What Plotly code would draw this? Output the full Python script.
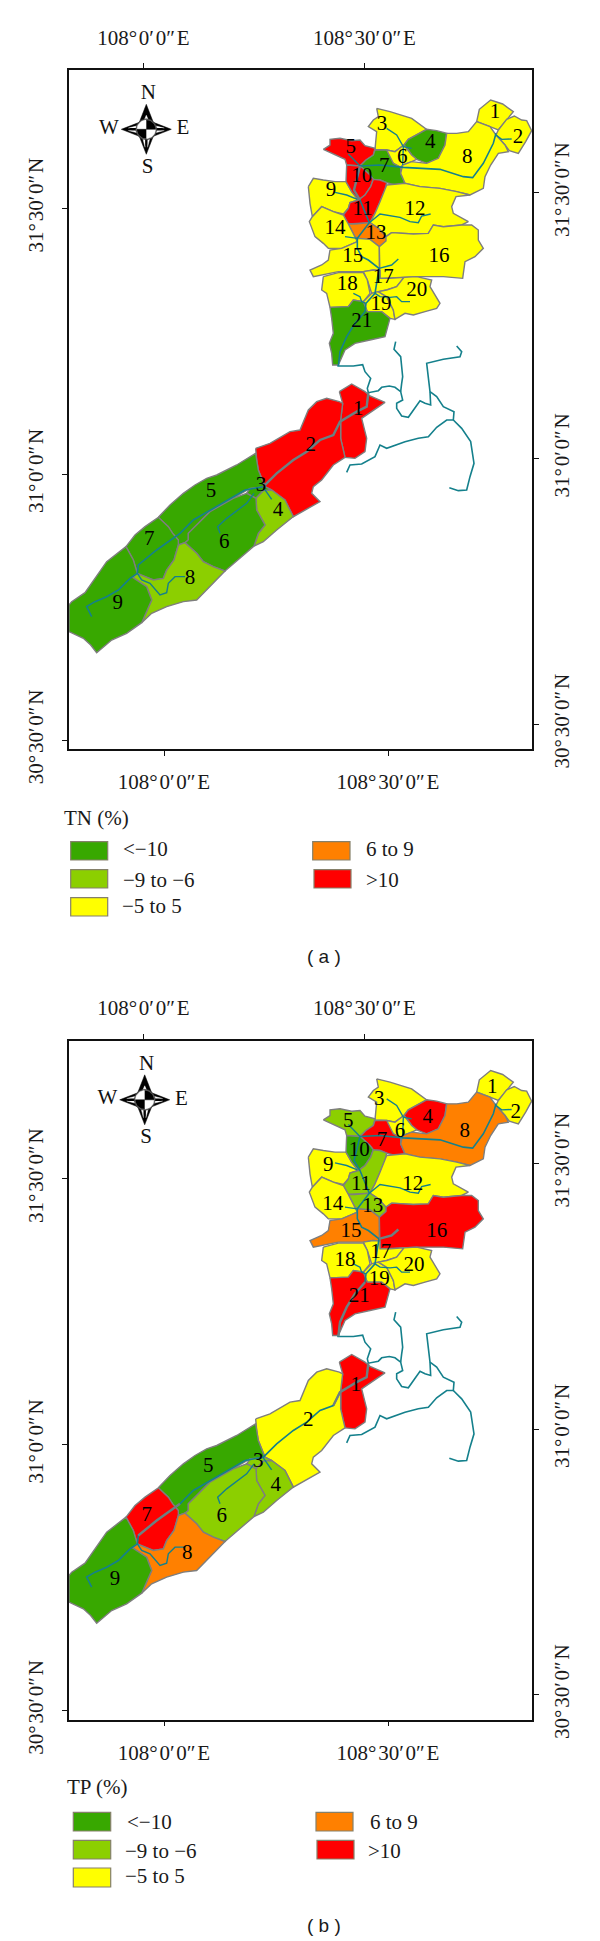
import numpy as np
import plotly.graph_objects as go

# ---------- axis ticks ----------
LON_TICKS = [108.0, 108.5]
LON_LABELS = ["108°\u200a0′\u200a0″\u200aE", "108°\u200a30′\u200a0″\u200aE"]
LAT_TICKS = [30.5, 31.0, 31.5]
LAT_LABELS = ["30°\u200a30′\u200a0″\u200aN", "31°\u200a0′\u200a0″\u200aN", "31°\u200a30′\u200a0″\u200aN"]

# ---------- classes ----------
CLASS_NAMES = ["<−10", "−9 to −6", "−5 to 5", "6 to 9", ">10"]
CLASS_COLORS = ["#38A800", "#8CCF00", "#FFFF00", "#FF8000", "#FF0000"]
G, L, Y, O, R = 0, 1, 2, 3, 4
TN_NORTH = [Y, Y, Y, G, R, Y, G, Y, Y, R, R, Y, O, Y, Y, Y, Y, Y, Y, Y, G]
TP_NORTH = [Y, Y, Y, R, L, Y, R, O, Y, G, L, Y, L, Y, O, R, Y, Y, Y, Y, R]
TN_SOUTH = [R, R, G, L, G, G, G, L, G]
TP_SOUTH = [R, Y, L, L, G, L, R, O, G]

# ---------- northern basin outlines (tracing units: 3 per map pixel) ----------
N01 = [(590,125),(598,88),(632,60),(668,72),(700,95),(680,118),(655,150),(630,140)]
N02 = [(655,150),(680,118),(703,108),(725,120),(740,122),(755,152),(737,185),(715,220),(688,212),(675,195),(648,165)]
N03 = [(290,85),(330,95),(395,115),(440,148),(385,178),(372,195),(345,215),(320,210),(285,208),(290,155),(265,140),(280,120),(295,110)]
N04 = [(372,195),(385,178),(440,148),(470,152),(500,160),(495,195),(475,235),(440,250),(410,238),(395,225),(385,210)]
N05 = [(130,208),(150,195),(150,178),(180,175),(215,182),(240,180),(255,197),(285,205),(280,225),(258,240),(240,258),(200,255),(195,238),(165,225)]
N06 = [(320,210),(345,215),(372,195),(385,210),(395,225),(410,238),(395,245),(368,255),(362,262),(340,250),(315,225)]
N07 = [(285,210),(320,210),(340,250),(362,262),(362,280),(375,310),(345,315),(320,308),(300,300),(280,298),(270,285),(245,262),(240,258),(258,240),(280,225)]
N08 = [(500,160),(530,160),(565,155),(590,125),(630,140),(648,165),(675,195),(685,215),(655,220),(632,255),(615,290),(610,325),(570,345),(530,335),(480,325),(420,320),(375,310),(362,280),(368,255),(395,245),(440,250),(475,235),(495,195)]
N09 = [(85,320),(100,295),(130,300),(165,305),(198,305),(215,335),(235,360),(210,368),(205,385),(190,402),(160,395),(125,380),(97,410),(90,370)]
N10 = [(200,255),(240,258),(245,262),(270,285),(280,298),(272,320),(255,345),(235,360),(215,335),(198,305)]
N11 = [(280,298),(300,300),(320,308),(315,330),(300,365),(285,400),(270,428),(225,432),(205,432),(190,405),(205,385),(210,368),(235,360),(255,345),(272,320)]
N12 = [(320,315),(375,310),(420,320),(480,325),(530,335),(570,345),(528,350),(515,380),(520,400),(565,425),(545,435),(490,440),(460,435),(445,460),(400,462),(375,460),(335,458),(318,470),(295,445),(270,428),(285,400),(300,365),(315,330)]
N13 = [(205,432),(225,432),(270,428),(295,445),(318,470),(318,483),(298,500),(270,478),(232,475),(225,470)]
N14 = [(97,410),(125,380),(160,395),(190,405),(205,432),(225,470),(232,485),(210,495),(185,505),(145,505),(130,490),(105,470),(88,425)]
N15 = [(232,485),(232,475),(270,478),(298,500),(298,560),(300,572),(280,570),(250,575),(175,575),(130,585),(100,590),(90,570),(125,555),(145,540),(150,510),(185,505),(210,495)]
N16 = [(335,458),(375,460),(400,462),(445,460),(460,435),(490,440),(545,435),(575,435),(595,450),(595,480),(610,505),(585,530),(555,545),(548,595),(490,590),(410,590),(330,595),(300,595),(298,500),(318,483),(318,470)]
N17 = [(250,575),(280,570),(300,572),(300,595),(330,595),(372,592),(350,620),(320,630),(295,635),(275,640),(262,600)]
N18 = [(130,590),(175,578),(250,578),(262,600),(270,640),(250,665),(220,660),(205,680),(150,682),(140,640),(125,630)]
N19 = [(275,640),(295,635),(320,650),(340,690),(345,718),(330,715),(305,695),(262,695),(250,665)]
N20 = [(372,592),(410,590),(455,600),(450,620),(480,670),(470,685),(435,695),(400,705),(375,700),(345,718),(340,690),(320,650),(295,635),(320,630),(350,620)]
N21 = [(150,682),(205,680),(220,660),(250,665),(262,695),(305,695),(330,715),(315,770),(270,780),(225,790),(195,810),(175,855),(158,855),(155,820),(148,790),(160,760),(155,715)]
NORTH = [N01,N02,N03,N04,N05,N06,N07,N08,N09,N10,N11,N12,N13,N14,N15,N16,N17,N18,N19,N20,N21]

# ---------- southern basin outlines ----------
S1 = [(868,65),(905,42),(945,65),(960,78),(1005,97),(935,145),(950,205),(945,245),(915,265),(885,262),(872,205),(872,150),(878,100)]
S2 = [(617,235),(660,220),(720,185),(750,180),(775,120),(800,95),(830,85),(868,95),(878,100),(872,150),(872,205),(885,262),(850,285),(815,330),(790,350),(785,370),(810,395),(730,440),(705,390),(665,360),(645,350),(625,300),(620,270)]
S3 = [(600,355),(645,350),(665,360),(640,362),(618,385),(590,370)]
S4 = [(618,385),(640,362),(665,360),(705,390),(730,440),(680,480),(640,515),(612,528),(625,490),(645,465),(620,420)]
S5 = [(325,442),(360,405),(400,370),(435,345),(470,325),(500,315),(560,285),(617,250),(625,300),(645,350),(600,355),(550,385),(480,425),(415,490),(415,510),(405,518),(385,525),(385,510),(368,490),(355,470)]
S6 = [(415,510),(415,490),(480,425),(550,385),(590,370),(618,385),(620,420),(645,465),(625,490),(612,528),(525,603),(490,590),(460,575),(440,550),(405,518)]
S7 = [(228,530),(255,495),(285,470),(325,442),(355,470),(368,490),(385,510),(385,525),(372,570),(350,600),(340,625),(310,630),(270,615),(262,610),(250,570)]
S8 = [(248,622),(262,610),(310,630),(340,625),(350,600),(372,570),(385,525),(405,518),(440,550),(460,575),(490,590),(525,603),(440,690),(400,695),(350,710),(305,730),(275,758),(305,690),(290,650)]
S9 = [(57,705),(65,695),(105,668),(135,625),(170,575),(228,530),(250,570),(262,610),(248,622),(290,650),(305,690),(275,758),(230,790),(185,810),(140,848),(122,825),(100,805),(57,785)]
SOUTH = [S1,S2,S3,S4,S5,S6,S7,S8,S9]

# ---------- rivers ----------
NR_MAIN = [(175,858),(180,815),(200,770),(225,730),(255,695),(258,670),(285,640),(297,565),(265,540),(245,530),(232,505),(232,475),(268,428),(240,360),(222,330),(240,258),(300,255),(370,262),(480,268),(550,290),(578,293),(610,250),(640,190),(648,160)]
NR_T = [
    [(648,165),(665,178),(695,177)],
    [(320,145),(350,165),(370,200),(368,255)],
    [(370,200),(395,205)],
    [(205,222),(240,258)],
    [(165,337),(200,345),(232,358)],
    [(268,428),(300,402),(360,412),(390,425),(415,428),(425,408),(452,402)],
    [(195,470),(232,475)],
    [(297,565),(335,555),(355,537)],
    [(220,640),(240,650),(245,665),(258,670)],
    [(285,640),(300,650),(330,652),(350,650),(365,665),(390,665)],
]
SR_MAIN = [(125,740),(110,710),(135,695),(170,680),(205,660),(240,625),(262,610),(265,585),(320,540),(390,490),(430,450),(490,415),(550,380),(585,360),(640,350),(680,310),(730,270),(770,245),(810,210),(850,195),(870,155),(920,125),(950,110),(955,68)]
SR_T = [
    [(262,610),(275,630),(300,640),(330,675),(350,668),(355,640),(375,620),(405,620)],
    [(510,490),(503,470),(530,445),(590,400),(612,370)],
    [(640,352),(665,388)],
]
# middle reaches, tracing units of the upper-right crop
MR_A = [(22,78),(70,78),(98,74),(105,95),(122,115),(112,145),(115,158),(145,152),(155,142),(178,138),(195,142),(212,155),(218,180),(200,190),(200,205),(215,228),(235,232),(255,205),(270,182),(285,190),(302,195),(300,155),(295,120),(290,70),(340,58),(390,50),(395,35),(380,18)]
MR_B = [(197,5),(192,28),(212,50),(218,110),(215,130),(212,155)]
MR_C = [(300,155),(320,170),(340,200),(372,215),(370,240),(350,240),(320,262),(295,290),(265,295),(225,305),(170,325),(150,315),(135,350),(95,372),(60,375),(50,397)]
MR_D = [(370,240),(395,265),(422,305),(432,370),(420,410),(410,450),(385,452),(358,443)]

# greyed river reaches per panel
GREY_A_S = [SR_MAIN[14:]]
GREY_B_S = [SR_MAIN[19:], SR_MAIN[7:10]]
GREY_A_N = [[(240,360),(222,330),(240,258)]]
GREY_B_N = [NR_MAIN[0:5], NR_T[7]]

# ---------- region labels ----------
LBL_N_A = [(645,97),(714,172),(306,133),(451,187),(212,203),(367,232),(313,260),(562,233),(153,333),(245,290),(248,388),(405,388),(288,460),(165,447),(218,530),(477,530),(310,592),(202,615),(303,675),(410,633),(245,725)]
LBL_N_B = [(637,112),(707,187),(298,147),(443,202),(205,215),(360,245),(306,272),(554,245),(145,347),(238,300),(243,402),(398,402),(278,470),(158,462),(213,545),(470,545),(302,607),(195,630),(298,688),(402,647),(238,740)]
LBL_S_A = [(925,120),(782,227),(633,347),(684,423),(483,365),(523,517),(298,510),(420,625),(203,702)]
LBL_S_B = [(917,135),(775,240),(625,363),(677,437),(475,380),(515,530),(290,525),(412,640),(195,717)]

# ---------- page geometry ----------
W, H = 600, 1941
FRAME_L, FRAME_R, FRAME_T, FRAME_B = 68.5, 532.3, 70.0, 749.0
B_SHIFT = 970.5
BOT_PX = (164.0, 388.0)
TOP_PX = (143.3, 364.3)
LEFT_PX = (208.3, 740.0)
RIGHT_PX = (192.7, 724.3)
TXT = "#1a1a1a"
SERIF = "Liberation Serif"
TEAL = "#14808C"
EDGE = "#7E7E7E"


def lon(px, ref=BOT_PX):
    return 108.0 + 0.5 * (px - ref[0]) / (ref[1] - ref[0])


def lat(py, ref=LEFT_PX):
    return 31.5 - 1.0 * (py - ref[0]) / (ref[1] - ref[0])


def conv(points, ox, oy):
    return [lon(ox + u / 3) for u, v in points], [lat(oy + v / 3) for u, v in points]


fig = go.Figure()
ORI_N = (280, 80)
ORI_S = (50, 370)
ORI_M = (330, 340)


def poly(pts, ori, cls, xa, ya):
    x, y = conv(pts + pts[:1], *ori)
    fig.add_trace(go.Scatter(x=x, y=y, xaxis=xa, yaxis=ya, mode="lines", fill="toself",
                             fillcolor=CLASS_COLORS[cls], line=dict(color=EDGE, width=1.4),
                             hoverinfo="skip", showlegend=False))


def line(pts, ori, color, width, xa, ya):
    x, y = conv(pts, *ori)
    fig.add_trace(go.Scatter(x=x, y=y, xaxis=xa, yaxis=ya, mode="lines",
                             line=dict(color=color, width=width),
                             hoverinfo="skip", showlegend=False))


def labels(pts, ori, xa, ya):
    x, y = conv(pts, *ori)
    fig.add_trace(go.Scatter(x=x, y=y, xaxis=xa, yaxis=ya, mode="text",
                             text=[str(i + 1) for i in range(len(pts))],
                             textposition="middle center",
                             textfont=dict(family=SERIF, size=21, color="#000000"),
                             hoverinfo="skip", showlegend=False))


def compass(dx, dy, xa, ya):
    cx, cy = 146.3 + dx, 129.3 + dy
    def shape(pts, fill):
        xs = [lon(cx + a) for a, b in pts]
        ys = [lat(cy + b) for a, b in pts]
        fig.add_trace(go.Scatter(x=xs, y=ys, xaxis=xa, yaxis=ya, mode="lines", fill="toself",
                                 fillcolor=fill, line=dict(color=fill, width=0.5),
                                 hoverinfo="skip", showlegend=False))
    L_, S_ = 25, 7
    shape([(0,-L_),(S_,-7),(-S_,-7),(0,-L_)], "#000000")
    shape([(0,L_),(S_,7),(-S_,7),(0,L_)], "#000000")
    shape([(-L_,0),(-7,S_),(-7,-S_),(-L_,0)], "#000000")
    shape([(L_,0),(7,S_),(7,-S_),(L_,0)], "#000000")
    # white slits in the spikes
    shape([(0,-14),(3,-7),(-3,-7),(0,-14)], "#FFFFFF")
    shape([(-1.2,18),(-4,7),(-1.2,7)], "#FFFFFF")
    shape([(1.2,18),(4,7),(1.2,7)], "#FFFFFF")
    shape([(-18,-1.2),(-7,-4),(-7,-1.2)], "#FFFFFF")
    shape([(-18,1.2),(-7,4),(-7,1.2)], "#FFFFFF")
    shape([(18,-1.2),(7,-4),(7,-1.2)], "#FFFFFF")
    shape([(18,1.2),(7,4),(7,1.2)], "#FFFFFF")
    t = np.linspace(0, 2 * np.pi, 49)
    shape([(10.5 * np.cos(a), 10.5 * np.sin(a)) for a in t], "#444444")
    shape([(9.3 * np.cos(a), 9.3 * np.sin(a)) for a in t], "#FFFFFF")
    q = np.linspace(0, np.pi / 2, 13)
    shape([(0, 0)] + [(9.3 * np.cos(a), -9.3 * np.sin(a)) for a in q], "#000000")
    shape([(0, 0)] + [(-9.3 * np.cos(a), 9.3 * np.sin(a)) for a in q], "#000000")
    fig.add_trace(go.Scatter(
        x=[lon(148.3 + dx), lon(147.7 + dx), lon(109 + dx), lon(183 + dx)],
        y=[lat(94 + dy), lat(167.5 + dy), lat(128.5 + dy), lat(129 + dy)],
        xaxis=xa, yaxis=ya, mode="text", text=["N", "S", "W", "E"], textposition="middle center",
        textfont=dict(family=SERIF, size=21, color="#111111"), hoverinfo="skip", showlegend=False))


panels = [
    dict(xa="x", ya="y", xb="x2", yb="y2", dy=0.0, cn=TN_NORTH, cs=TN_SOUTH, ln=LBL_N_A, ls=LBL_S_A,
         gs=GREY_A_S, gn=GREY_A_N, cdx=0.0),
    dict(xa="x3", ya="y3", xb="x4", yb="y4", dy=B_SHIFT, cn=TP_NORTH, cs=TP_SOUTH, ln=LBL_N_B, ls=LBL_S_B,
         gs=GREY_B_S, gn=GREY_B_N, cdx=-1.6),
]

layout = dict(width=W, height=H, margin=dict(l=0, r=0, t=0, b=0, pad=0), autosize=False, template="none",
              paper_bgcolor="white", plot_bgcolor="white", showlegend=False)


def axis_style(vals, text, standoff):
    return dict(tickmode="array", tickvals=vals, ticktext=text, ticks="outside", ticklen=5, tickwidth=1.2,
                tickcolor="#111111", showline=True, linecolor="#111111", linewidth=1.6, showgrid=False,
                zeroline=False, fixedrange=True, automargin=False,
                tickfont=dict(family=SERIF, size=21, color=TXT), ticklabelstandoff=standoff)


for i, p in enumerate(panels):
    for pts, c in zip(SOUTH, p["cs"]):
        poly(pts, ORI_S, c, p["xa"], p["ya"])
    for pts, c in zip(NORTH, p["cn"]):
        poly(pts, ORI_N, c, p["xa"], p["ya"])
    # rivers
    for r in [MR_A, MR_B, MR_C, MR_D]:
        line(r, ORI_M, TEAL, 1.6, p["xa"], p["ya"])
    line(SR_MAIN, ORI_S, TEAL, 1.6, p["xa"], p["ya"])
    for r in SR_T:
        line(r, ORI_S, TEAL, 1.4, p["xa"], p["ya"])
    line(NR_MAIN, ORI_N, TEAL, 1.6, p["xa"], p["ya"])
    for r in NR_T:
        line(r, ORI_N, TEAL, 1.4, p["xa"], p["ya"])
    for r in p["gs"]:
        line(r, ORI_S, "#6F7F80", 2.4, p["xa"], p["ya"])
    for r in p["gn"]:
        line(r, ORI_N, "#6F7F80", 2.4, p["xa"], p["ya"])
    labels(p["ls"], ORI_S, p["xa"], p["ya"])
    labels(p["ln"], ORI_N, p["xa"], p["ya"])
    compass(p["cdx"], 0.0, p["xa"], p["ya"])

    # companion axes (top, right) carry their own graticule offsets
    fig.add_trace(go.Scatter(x=[lon(300, TOP_PX)], y=[lat(300, RIGHT_PX)], xaxis=p["xb"], yaxis=p["yb"],
                             mode="markers", marker=dict(size=1, opacity=0), hoverinfo="skip", showlegend=False))

    dy = p["dy"]
    ydom = [1 - (FRAME_B + dy) / H, 1 - (FRAME_T + dy) / H]
    xdom = [FRAME_L / W, FRAME_R / W]
    s = "" if i == 0 else "3"
    s2 = "2" if i == 0 else "4"
    layout["xaxis" + s] = dict(axis_style(LON_TICKS, LON_LABELS, 8), domain=xdom, side="bottom",
                               range=[lon(FRAME_L), lon(FRAME_R)], anchor="y" + s)
    layout["yaxis" + s] = dict(axis_style(LAT_TICKS, LAT_LABELS, 10), domain=ydom, side="left", tickangle=-90,
                               range=[lat(FRAME_B), lat(FRAME_T)], anchor="x" + s)
    layout["xaxis" + s2] = dict(axis_style(LON_TICKS, LON_LABELS, 10), domain=xdom, side="top",
                                overlaying="x" + s, anchor="y" + s2,
                                range=[lon(FRAME_L, TOP_PX), lon(FRAME_R, TOP_PX)])
    layout["yaxis" + s2] = dict(axis_style(LAT_TICKS, LAT_LABELS, 5), domain=ydom, side="right", tickangle=-90,
                                overlaying="y" + s, anchor="x" + s2,
                                range=[lat(FRAME_B, RIGHT_PX), lat(FRAME_T, RIGHT_PX)])

# ---------- legends ----------
shapes, notes = [], []


def note(x, y, text, size=21, family=SERIF):
    notes.append(dict(x=x / W, y=1 - y / H, xref="paper", yref="paper", text=text, showarrow=False,
                      xanchor="left", yanchor="middle", font=dict(family=family, size=size, color=TXT)))


def swatch(x0, y0, x1, y1, color):
    shapes.append(dict(type="rect", xref="paper", yref="paper", x0=x0 / W, x1=x1 / W,
                       y0=1 - y0 / H, y1=1 - y1 / H, fillcolor=color,
                       line=dict(color="#85806A", width=1.2)))


LEG_TITLES = ["TN (%)", "TP (%)"]
LEG = [
    dict(title=(62,818), sw=[(70.7,841.7,107.7,860),(70.7,869.7,107.7,888),(70.7,897.7,107.7,916),(312.7,841.7,350,860),(314,869.7,351,888)],
         tx=[(120.5,849),(120.5,880),(120,906),(364,849),(364,880)], cap=(305,956)),
    dict(title=(65,1787), sw=[(73.3,1812.3,110.7,1831),(73.3,1840.3,110.7,1859),(73.3,1868,110.7,1887),(316,1812.3,353,1831),(317,1840.3,354,1859)],
         tx=[(124.5,1821.5),(122.5,1850.5),(122.5,1876),(368,1821.5),(366,1850.5)], cap=(305,1925)),
]
CAPTIONS = ["( a )", "( b )"]
for j, lg in enumerate(LEG):
    note(lg["title"][0], lg["title"][1], LEG_TITLES[j])
    for k, name in enumerate(CLASS_NAMES):
        swatch(*lg["sw"][k], CLASS_COLORS[k])
        note(lg["tx"][k][0], lg["tx"][k][1], name.replace("<", "&lt;").replace(">", "&gt;"))
    note(lg["cap"][0], lg["cap"][1], CAPTIONS[j], size=19, family="Liberation Sans")

fig.update_layout(**layout, shapes=shapes, annotations=notes)
fig.write_html("out.html", config={"displayModeBar": False}, post_script="document.body.style.margin='0';")
